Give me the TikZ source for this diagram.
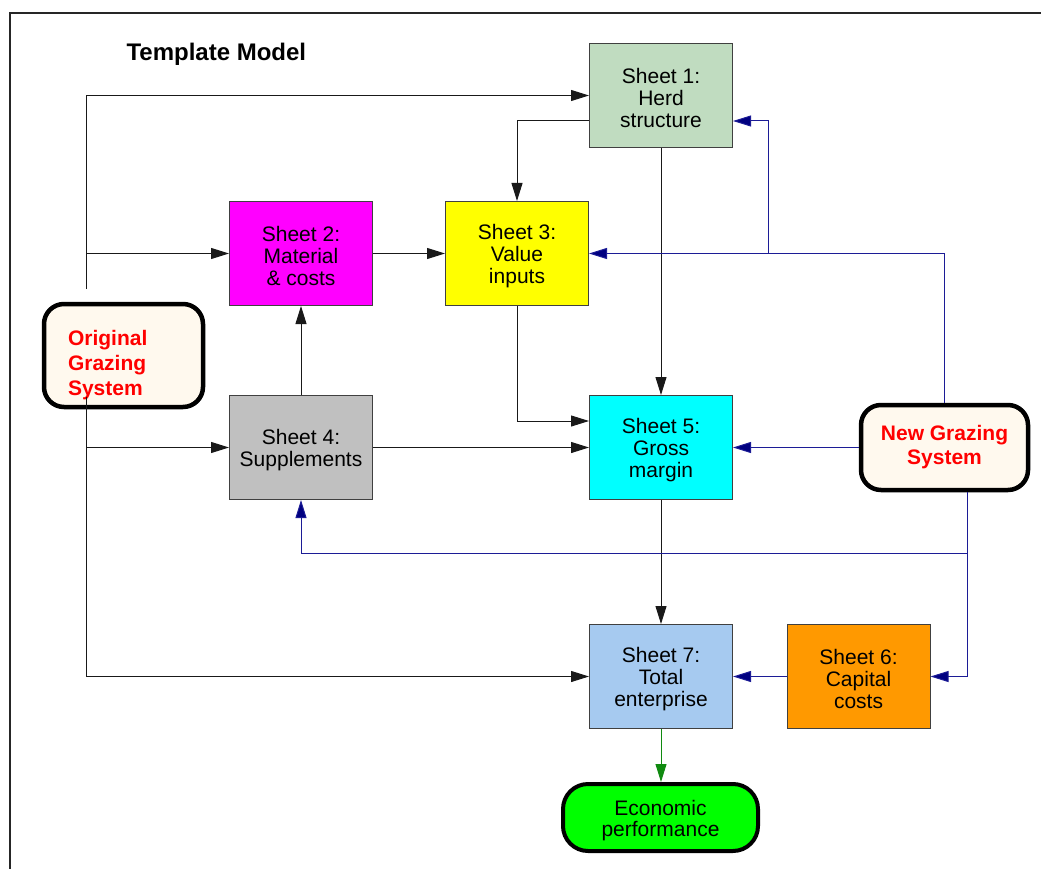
\documentclass[tikz,border=0pt]{standalone}
\usepackage{fontspec}
\setmainfont{Liberation Sans}
\usetikzlibrary{arrows.meta}
\definecolor{cone}{HTML}{C0DCC0}
\definecolor{ctwo}{HTML}{FF00FF}
\definecolor{cthree}{HTML}{FFFF00}
\definecolor{cfour}{HTML}{C0C0C0}
\definecolor{cfive}{HTML}{00FFFF}
\definecolor{csix}{HTML}{FF9900}
\definecolor{cseven}{HTML}{A6CAF0}
\definecolor{cream}{HTML}{FFF9EE}
\definecolor{ecogreen}{HTML}{00FF00}
\definecolor{navyline}{HTML}{1C1C96}
\definecolor{navytip}{HTML}{000080}
\definecolor{greenline}{HTML}{108A10}
\newcommand\liftline{\rule{0pt}{21pt}}
\begin{document}
\begin{tikzpicture}[x=1pt,y=-1pt,
  sheet/.style={draw=black!75, line width=1pt, minimum width=143pt, minimum height=104pt,
    inner sep=0pt, align=center, font=\fontsize{21}{22}\selectfont},
  sysbox/.style={draw=black, line width=4.5pt, rounded corners=20pt, fill=cream, inner sep=0pt,
    text=red, font=\bfseries\fontsize{21}{25}\selectfont},
  arr/.style={draw=black!90, line width=1pt, -{Triangle[length=18pt,width=11pt]}},
  barr/.style={draw=navyline, line width=1pt, -{Triangle[length=18pt,width=11pt,fill=navytip]}},
  garr/.style={draw=greenline, line width=1pt, -{Triangle[length=18pt,width=11pt]}},
  ]
\useasboundingbox (0,0) rectangle (1041,869);
% frame
\draw[line width=2pt, black!85] (10,869) -- (10,13) -- (1041,13);
% title
\node[anchor=base west, font=\bfseries\fontsize{24}{28}\selectfont] (title) at (123,61) {Template Model};
% sheets
\node[sheet, fill=cone]   (S1) at (661,95.5)  {\liftline Sheet 1:\\Herd\\structure};
\node[sheet, fill=ctwo]   (S2) at (301,253.5) {\liftline Sheet 2:\\Material\\ \& costs};
\node[sheet, fill=cthree] (S3) at (517,253.5) {\liftline Sheet 3:\\Value\\inputs};
\node[sheet, fill=cfour]  (S4) at (301,447.5) {\liftline Sheet 4:\\Supplements};
\node[sheet, fill=cfive]  (S5) at (661,447.5) {\liftline Sheet 5:\\Gross\\margin};
\node[sheet, fill=csix]   (S6) at (858.5,676.5) {\liftline Sheet 6:\\Capital\\costs};
\node[sheet, fill=cseven] (S7) at (661,676.5) {\liftline Sheet 7:\\Total\\enterprise};
% systems
\node[sysbox, minimum width=159pt, minimum height=103pt, text width=111pt, inner xsep=24pt,
  align=left] (og) at (123.5,355.5) {\rule{0pt}{35pt}Original\\Grazing\\System};
\node[sysbox, minimum width=167pt, minimum height=85pt, align=center,
  font=\bfseries\fontsize{21}{24}\selectfont] (new) at (944.5,447.5) {New Grazing\\System};
\node[draw=black, line width=4pt, rounded corners=25pt, fill=ecogreen, minimum width=195pt,
  minimum height=67pt, inner sep=0pt, align=center, font=\fontsize{21}{21}\selectfont]
  (eco) at (660.5,817.5) {\liftline Economic\\performance};
% helper coordinates
\coordinate (ogtop) at (86,289);
\coordinate (ogbot) at (86,397);
\coordinate (br) at (768,253.5);
\coordinate (nd) at (967,553);
% black connectors
\draw[arr] (ogtop) |- (S1.west);
\draw[arr] (ogtop |- S2.west) -- (S2.west);
\draw[arr] (ogbot |- S4.west) -- (S4.west);
\draw[arr] (ogbot) |- (S7.west);
\draw[arr] ([yshift=-25.5pt]S1.west) -| (S3.north);
\draw[arr] (S1.south) -- (S5.north);
\draw[arr] (S2.east) -- (S3.west);
\draw[arr] (S4.north) -- (S2.south);
\draw[arr] (S3.south) |- ([yshift=26.5pt]S5.west);
\draw[arr] (S4.east) -- (S5.west);
\draw[arr] (S5.south) -- (S7.north);
\draw[garr] (S7.south) -- (S7.south |- eco.north);
% blue connectors
\draw[barr] (new.north) |- (S3.east);
\draw[barr] (br) |- ([yshift=-25.5pt]S1.east);
\draw[barr] (new.west) -- (S5.east);
\draw[barr] ([xshift=22.5pt]new.south) |- (nd) -| (S4.south);
\draw[barr] (nd) |- (S6.east);
\draw[barr] (S6.west) -- (S7.east);
\end{tikzpicture}
\end{document}
